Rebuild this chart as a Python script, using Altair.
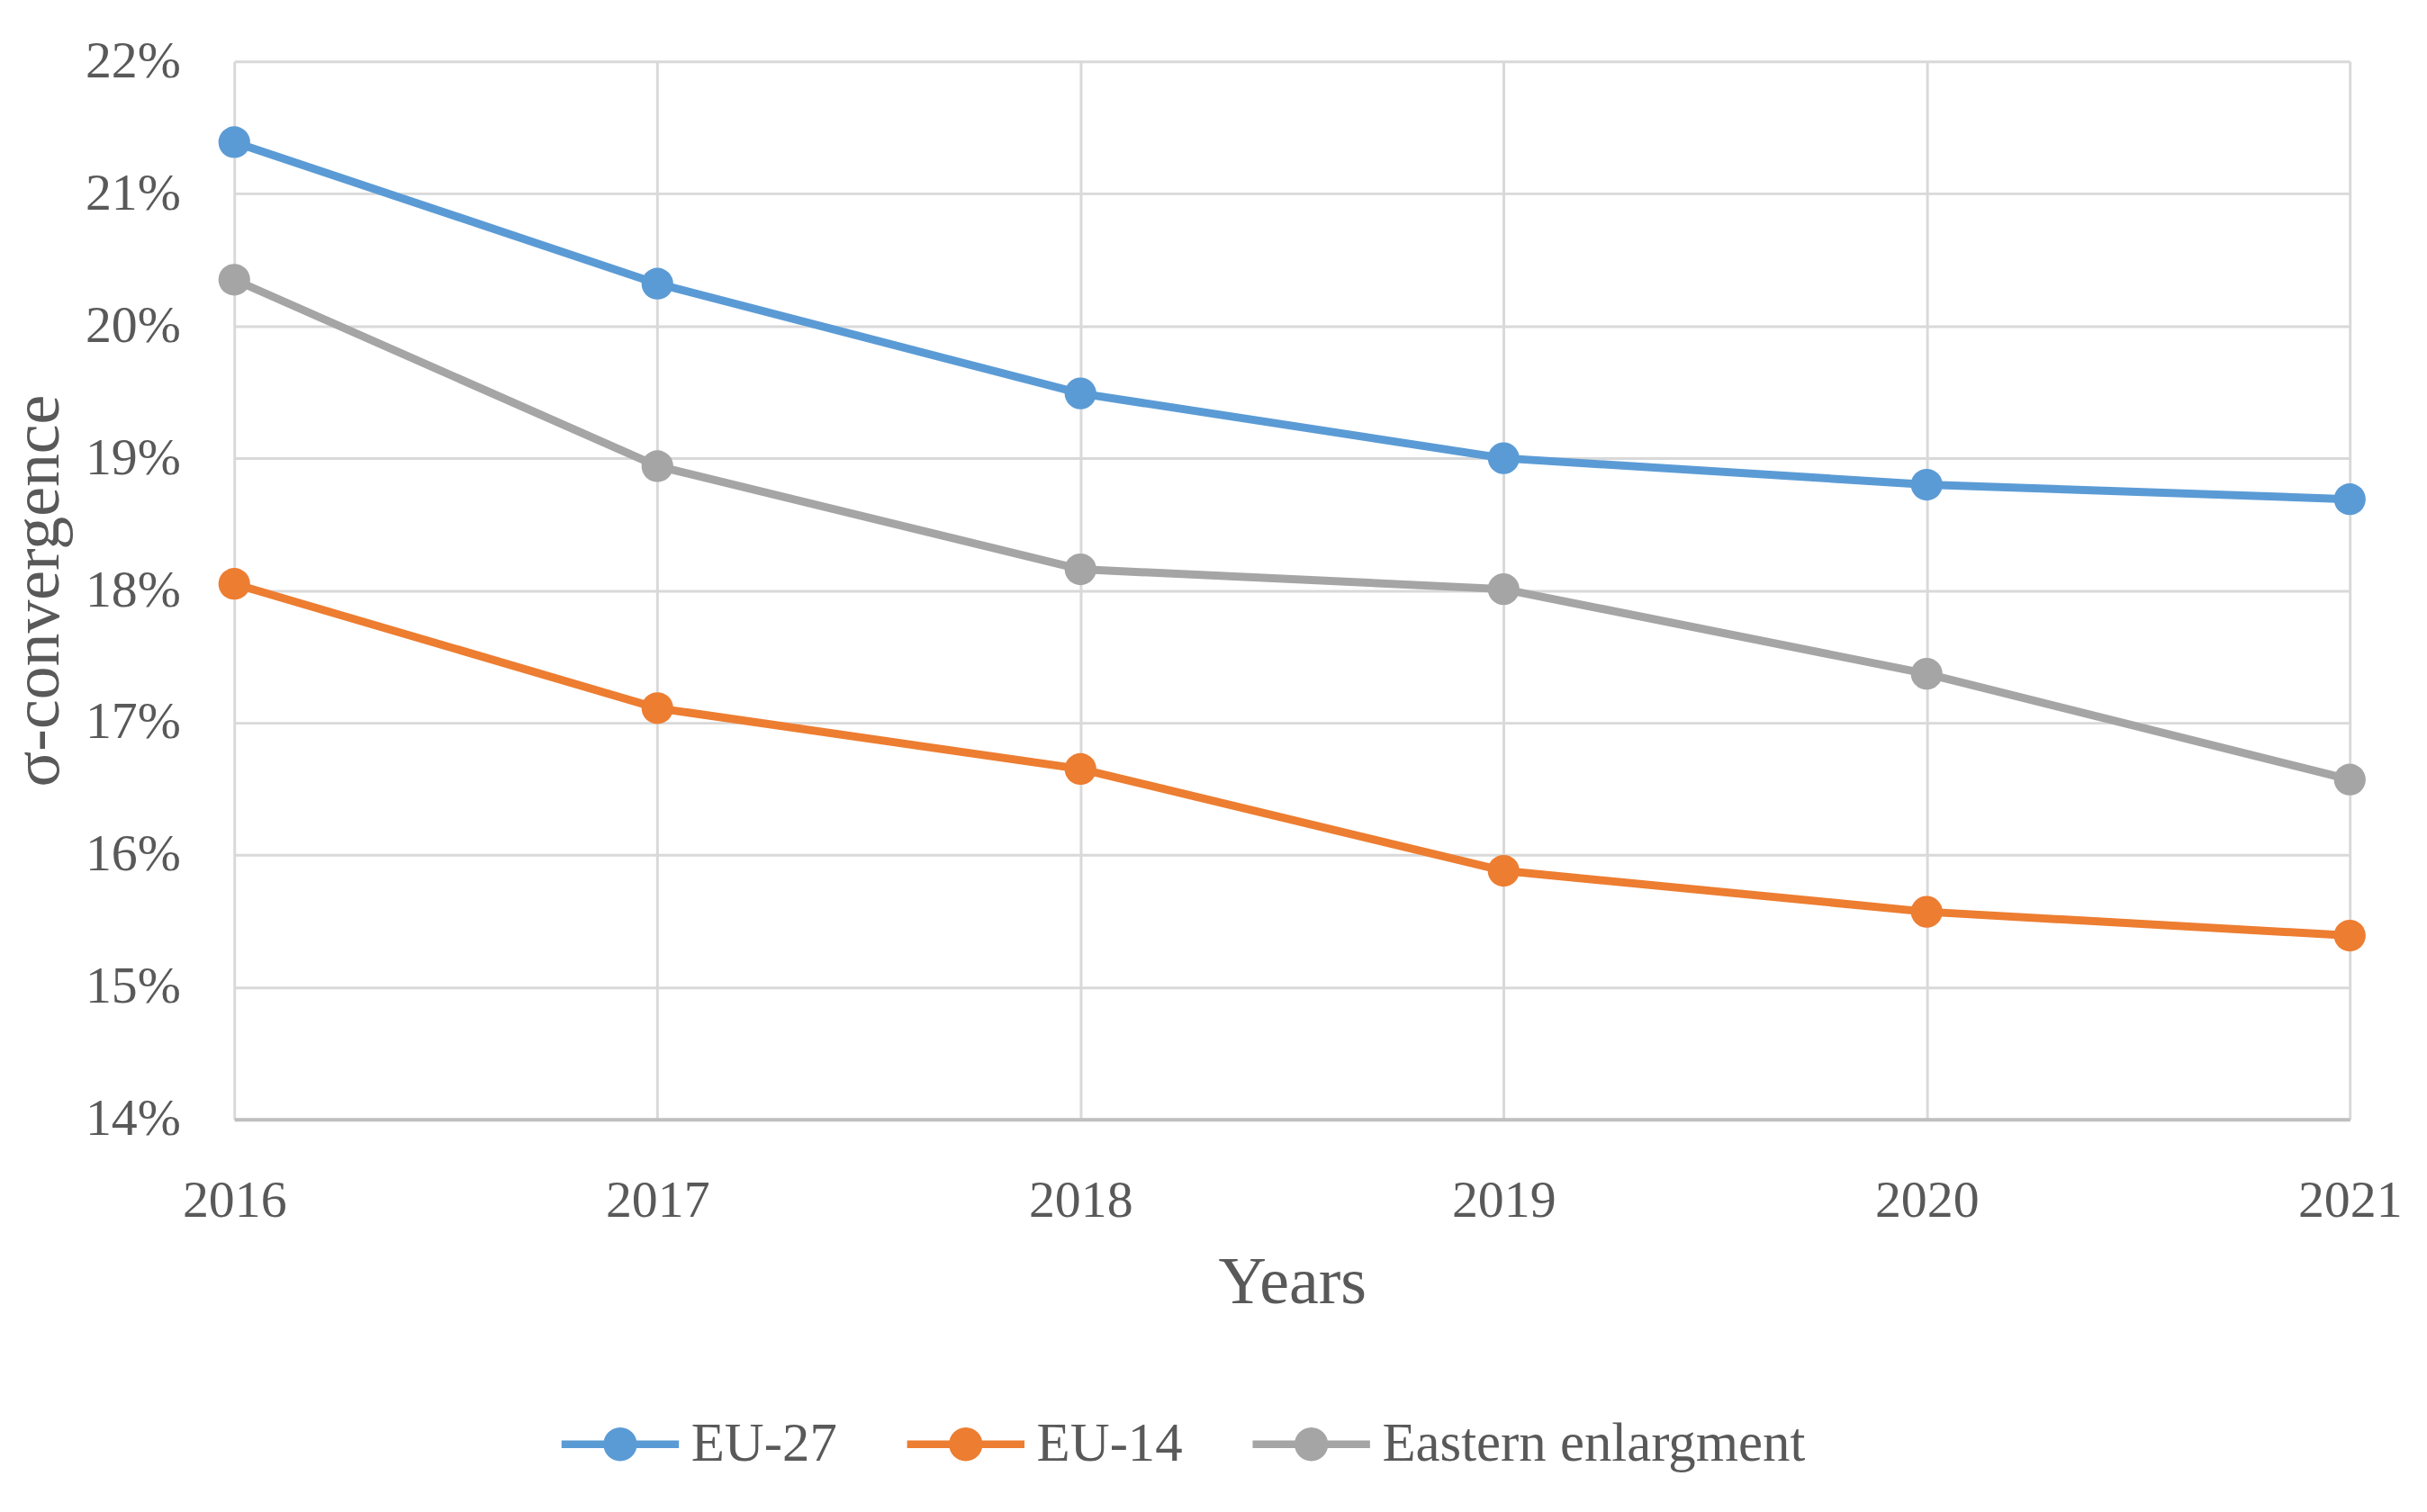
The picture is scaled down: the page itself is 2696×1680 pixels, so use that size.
import altair as alt
import pandas as pd

years = [2016, 2017, 2018, 2019, 2020, 2021]
eu27 = [21.39, 20.32, 19.49, 19.00, 18.80, 18.69]
eu14 = [18.05, 17.11, 16.65, 15.88, 15.57, 15.39]
eastern = [20.35, 18.94, 18.16, 18.01, 17.37, 16.57]

series = ["EU-27", "EU-14", "Eastern enlargment"]
colors = ["#5B9BD5", "#ED7D31", "#A5A5A5"]

rows = []
for name, vals in zip(series, [eu27, eu14, eastern]):
    for y, v in zip(years, vals):
        rows.append({"Year": y, "Series": name, "Value": v / 100})
df = pd.DataFrame(rows)

FONT = "Liberation Serif"
TXT = "#595959"

# line with a dot, for the legend
legend_path = (
    "M-1.5,-0.1H-0.38V0.1H-1.5Z "
    "M0.38,-0.1H1.5V0.1H0.38Z "
    "M0.43,0A0.43,0.43,0,1,1,-0.43,0A0.43,0.43,0,1,1,0.43,0Z"
)

color = alt.Color(
    "Series:N",
    scale=alt.Scale(domain=series, range=colors),
    sort=series,
    legend=alt.Legend(
        title=None,
        orient="none",
        direction="horizontal",
        legendX=386,
        legendY=1497,
        symbolType=legend_path,
        symbolSize=7600,
        symbolStrokeWidth=0,
        symbolOpacity=1,
        labelFont=FONT,
        labelFontSize=61,
        labelColor=TXT,
        labelOffset=35,
        labelLimit=0,
        columnPadding=77,
        padding=0,
    ),
)

x = alt.X(
    "Year:Q",
    scale=alt.Scale(domain=[2016, 2021], nice=False, zero=False),
    axis=alt.Axis(
        title="Years",
        values=years,
        format="d",
        labelPadding=62,
        titlePadding=26,
        labelFlush=False,
    ),
)
y = alt.Y(
    "Value:Q",
    scale=alt.Scale(domain=[0.14, 0.22], nice=False, zero=False),
    axis=alt.Axis(
        title="σ-convergence",
        values=[0.14, 0.15, 0.16, 0.17, 0.18, 0.19, 0.20, 0.21, 0.22],
        format=".0%",
        labelPadding=60,
        titlePadding=14,
    ),
)

base = alt.Chart(df).encode(x=x, y=y, color=color)
lines = base.mark_line(strokeWidth=9)
dots = base.mark_circle(size=1250, opacity=1)

chart = (
    alt.layer(lines, dots)
    .properties(
        width=2357,
        height=1179,
        autosize=alt.AutoSizeParams(type="none"),
        padding={"left": 253, "top": 58, "right": 78, "bottom": 435},
    )
    .configure_view(stroke=None)
    .configure_axis(
        labelFont=FONT,
        labelFontSize=58,
        labelColor=TXT,
        titleFont=FONT,
        titleFontSize=74,
        titleFontWeight="normal",
        titleColor=TXT,
        ticks=False,
        grid=True,
        gridColor="#D9D9D9",
        gridWidth=3,
        domain=False,
    )
    .configure_axisX(domain=True, domainColor="#BFBFBF", domainWidth=4)
)

chart.save("out.html", embed_options={"renderer": "svg", "actions": False})
